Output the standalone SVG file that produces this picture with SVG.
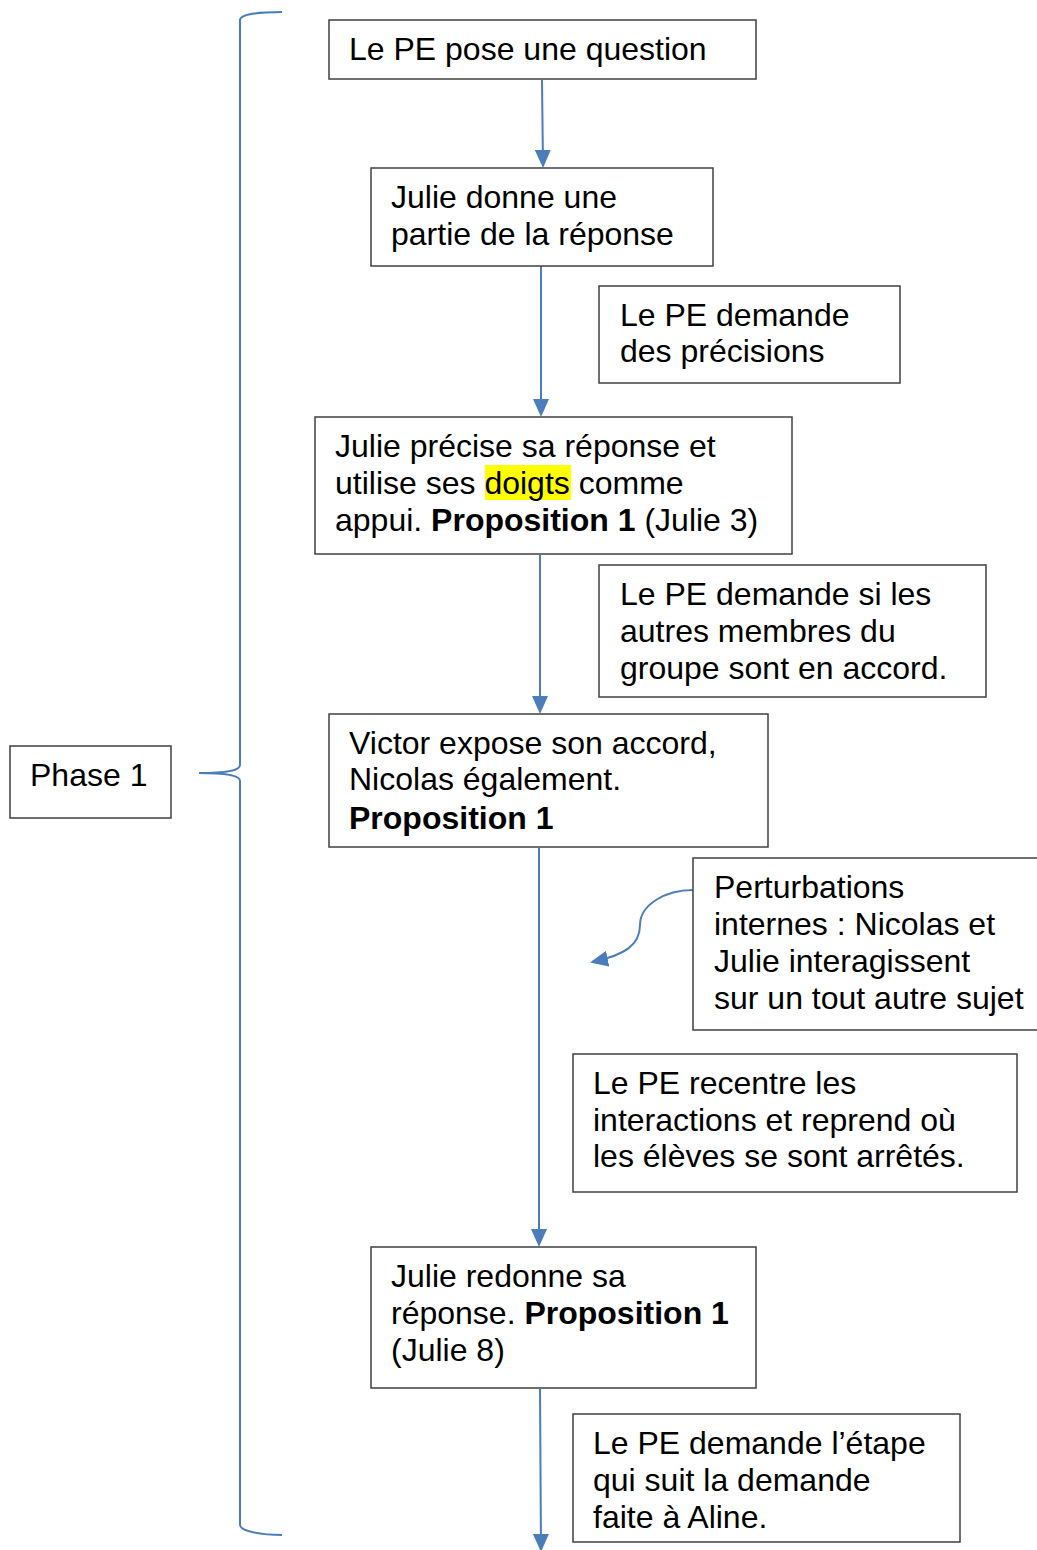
<svg xmlns="http://www.w3.org/2000/svg" width="1037" height="1550" viewBox="0 0 1037 1550">
<style>
.box{fill:#fff;stroke:#404040;stroke-width:1.5}
text{font-family:"Liberation Sans",Arial,sans-serif;font-size:32px;fill:#000}
.b{font-weight:bold}
.c{fill:none;stroke:#4a7ebb;stroke-width:2}
</style>
<defs>
<marker id="ah" markerWidth="8" markerHeight="8" refX="7" refY="4" orient="auto" markerUnits="userSpaceOnUse" viewBox="0 0 8 8">
<path d="M0,0 L8,4 L0,8 Z" fill="#4a7ebb"/>
</marker>
<marker id="ah2" markerWidth="18" markerHeight="16" refX="16" refY="8" orient="auto" markerUnits="userSpaceOnUse" viewBox="0 0 18 16">
<path d="M0,0 L18,8 L0,16 Z" fill="#4a7ebb"/>
</marker>
</defs>
<g id="connectors">
<path class="c" d="M542,80 L543,166" marker-end="url(#ah2)"/>
<path class="c" d="M541,266 L541,415" marker-end="url(#ah2)"/>
<path class="c" d="M540,555 L540,712" marker-end="url(#ah2)"/>
<path class="c" d="M539,848 L539,1245" marker-end="url(#ah2)"/>
<path class="c" d="M540,1389 L541,1550" marker-end="url(#ah2)"/>
<path class="c" d="M693,890 C665,890 640,905 640,925 C640,945 625,955 592,962" marker-end="url(#ah2)"/>
<path class="c" d="M282,12 C260,12 240,14 240,20 L240,765 C240,770 230,773 199,773 C230,773 240,776 240,781 L240,1525 C240,1531 260,1535 282,1535"/>
</g>
<g id="n1"><rect class="box" x="329" y="20" width="427" height="59"/><text x="349" y="60">Le PE pose une question</text></g>
<g id="n2"><rect class="box" x="371" y="168" width="342" height="98"/><text x="391" y="208">Julie donne une</text><text x="391" y="245">partie de la réponse</text></g>
<g id="n3"><rect class="box" x="599" y="286" width="301" height="97"/><text x="620" y="326">Le PE demande</text><text x="620" y="362">des précisions</text></g>
<g id="n4"><rect class="box" x="315" y="417" width="477" height="137"/><rect x="485" y="465" width="86" height="35" fill="#ffff00"/><text x="335" y="457">Julie précise sa réponse et</text><text x="335" y="494">utilise ses doigts comme</text><text x="335" y="531">appui. <tspan class="b">Proposition 1</tspan> (Julie 3)</text></g>
<g id="n5"><rect class="box" x="599" y="565" width="387" height="132"/><text x="620" y="605">Le PE demande si les</text><text x="620" y="642">autres membres du</text><text x="620" y="679">groupe sont en accord.</text></g>
<g id="n6"><rect class="box" x="329" y="714" width="439" height="133"/><text x="349" y="754">Victor expose son accord,</text><text x="349" y="790">Nicolas également.</text><text x="349" y="829" class="b">Proposition 1</text></g>
<g id="n7"><rect class="box" x="693" y="858" width="350" height="172"/><text x="714" y="898">Perturbations</text><text x="714" y="935">internes : Nicolas et</text><text x="714" y="972">Julie interagissent</text><text x="714" y="1009">sur un tout autre sujet</text></g>
<g id="n8"><rect class="box" x="573" y="1054" width="444" height="138"/><text x="593" y="1094">Le PE recentre les</text><text x="593" y="1131">interactions et reprend où</text><text x="593" y="1167">les élèves se sont arrêtés.</text></g>
<g id="n9"><rect class="box" x="371" y="1247" width="385" height="141"/><text x="391" y="1287">Julie redonne sa</text><text x="391" y="1324">réponse. <tspan class="b">Proposition 1</tspan></text><text x="391" y="1361">(Julie 8)</text></g>
<g id="n10"><rect class="box" x="573" y="1414" width="387" height="128"/><text x="593" y="1454">Le PE demande l’étape</text><text x="593" y="1491">qui suit la demande</text><text x="593" y="1528">faite à Aline.</text></g>
<g id="phase"><rect class="box" x="10" y="746" width="161" height="72"/><text x="30" y="786">Phase 1</text></g>
</svg>
